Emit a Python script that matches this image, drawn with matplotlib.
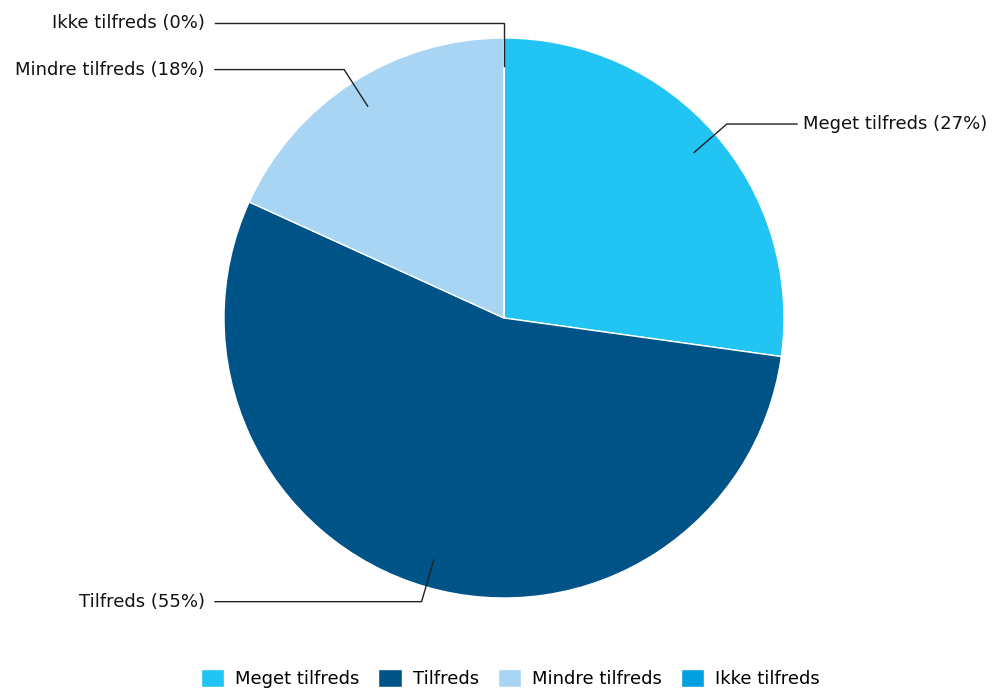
import matplotlib
matplotlib.use("Agg")
import matplotlib.pyplot as plt
import numpy as np

categories = ["Meget tilfreds", "Tilfreds", "Mindre tilfreds", "Ikke tilfreds"]
values = [27.2, 54.6, 18.2, 0.0]
labels = ["Meget tilfreds (27%)", "Tilfreds (55%)", "Mindre tilfreds (18%)", "Ikke tilfreds (0%)"]
colors = ["#21C4F3", "#005387", "#A8D5F4", "#009FDF"]

W, H = 995, 689
cx, cy, R = 504, 318, 280
fs = 13

fig = plt.figure(figsize=(W / 100, H / 100), dpi=100)
ax = fig.add_axes([(cx - R) / W, (H - cy - R) / H, 2 * R / W, 2 * R / H])

wedges, _ = ax.pie(values, colors=colors, startangle=90, counterclock=False,
                   radius=1, wedgeprops=dict(edgecolor="white", linewidth=1))
ax.set_xlim(-1, 1)
ax.set_ylim(-1, 1)
ax.axis("off")

# leader lines and labels
total = sum(values)
start = 0.0
x_right = (797 - cx) / R
x_left = (215 - cx) / R
for v, lab in zip(values, labels):
    mid = (start + v / 2) / total * 2 * np.pi
    start += v
    sx, sy = np.sin(mid), np.cos(mid)
    if v == 0:
        sx = 0.0
    p0 = (0.9 * sx, 0.9 * sy)
    p1 = (1.055 * sx, 1.055 * sy)
    if sx > 0:
        p2 = (x_right, p1[1])
        tx, ha = x_right + 6 / R, "left"
    else:
        p2 = (x_left, p1[1])
        tx, ha = x_left - 10 / R, "right"
    ax.plot([p0[0], p1[0], p2[0]], [p0[1], p1[1], p2[1]], color="#222222",
            lw=1, clip_on=False, solid_joinstyle="miter")
    ax.text(tx, p1[1], lab, ha=ha, va="center", fontsize=fs, color="#111111")

fig.legend(wedges, categories, loc="lower center", ncol=4, frameon=False,
           bbox_to_anchor=(0.513, -0.022), fontsize=fs, handlelength=1.3,
           handleheight=1.2, handletextpad=0.6, columnspacing=1.05)

fig.savefig("out.png", dpi=100)
